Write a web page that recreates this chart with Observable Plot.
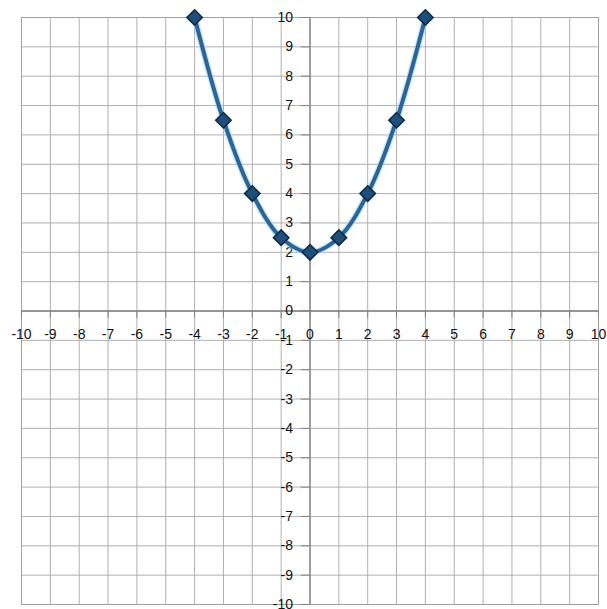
<!DOCTYPE html>
<html>
<head>
<meta charset="utf-8">
<script src="https://cdn.jsdelivr.net/npm/d3@7"></script>
<script src="https://cdn.jsdelivr.net/npm/@observablehq/plot@0.6"></script>
<style>
  html, body { margin: 0; padding: 0; background: #fff; }
  #chart { width: 607px; height: 609px; }
</style>
</head>
<body>
<div id="chart"></div>
<script>
const xValues = [-4, -3, -2, -1, 0, 1, 2, 3, 4];
const yValues = [10, 6.5, 4, 2.5, 2, 2.5, 4, 6.5, 10];
const xTicks = [-10, -9, -8, -7, -6, -5, -4, -3, -2, -1, 0, 1, 2, 3, 4, 5, 6, 7, 8, 9, 10];
const yTicks = [-10, -9, -8, -7, -6, -5, -4, -3, -2, -1, 0, 1, 2, 3, 4, 5, 6, 7, 8, 9, 10];

const points = xValues.map((x, i) => ({x, y: yValues[i]}));

const chart = Plot.plot({
  width: 607,
  height: 609,
  marginLeft: 21,
  marginRight: 9,
  marginTop: 17,
  marginBottom: 5,
  x: {domain: [-10, 10], axis: null},
  y: {domain: [-10, 10], axis: null},
  style: {fontFamily: "Liberation Sans, Arial, sans-serif", fontSize: "14px", background: "#fff"},
  marks: [
    Plot.ruleX(xTicks, {x: d => d, stroke: "#b0b0b0", strokeWidth: 1, strokeOpacity: 1}),
    Plot.ruleY(yTicks, {y: d => d, stroke: "#b0b0b0", strokeWidth: 1, strokeOpacity: 1}),
    Plot.frame({stroke: "#a0a0a0"}),
    // axes through origin
    Plot.ruleX([0], {stroke: "#808080", strokeWidth: 1.3}),
    Plot.ruleY([0], {stroke: "#808080", strokeWidth: 1.3}),
    // tick marks
    Plot.ruleY(yTicks, {y: d => d, x1: -0.3, x2: 0, stroke: "#808080"}),
    Plot.ruleX(xTicks, {x: d => d, y1: 0, y2: -0.25, stroke: "#808080"}),
    // tick labels
    Plot.text(xTicks, {x: d => d, y: 0, text: d => String(d), dy: 24, fill: "#111", fontSize: 14}),
    Plot.text(yTicks, {x: 0, y: d => d, text: d => String(d), dx: -17, textAnchor: "end", fill: "#111", fontSize: 14}),
    // curve
    Plot.line(points, {x: "x", y: "y", curve: "catmull-rom", stroke: "#9fd0f0", strokeWidth: 6.5, strokeOpacity: 0.6}),
    Plot.line(points, {x: "x", y: "y", curve: "catmull-rom", stroke: "#2b6597", strokeWidth: 4}),
    Plot.dot(points, {x: "x", y: "y", symbol: "diamond2", r: 7, fill: "#1f4e78", stroke: "#0e2a45", strokeWidth: 1.5})
  ]
});
document.getElementById("chart").appendChild(chart);
</script>
</body>
</html>
